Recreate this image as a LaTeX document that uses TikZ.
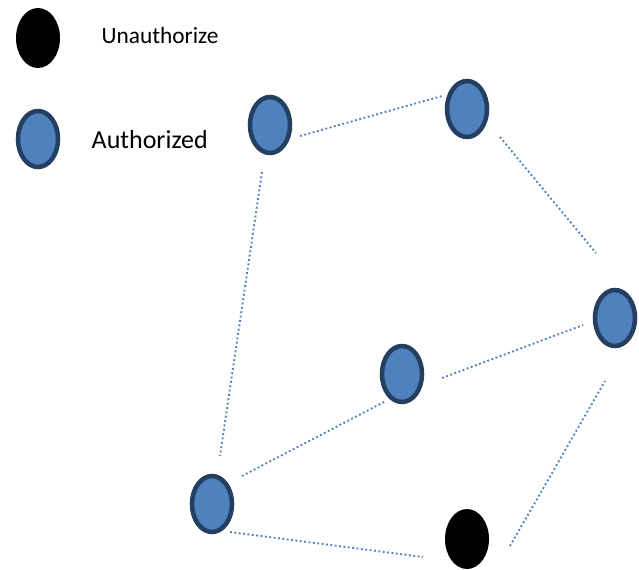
\documentclass[tikz,border=0pt]{standalone}
\usepackage{fontspec}
\setmainfont{Carlito}
\usetikzlibrary{shapes.geometric}

\definecolor{nodeblue}{HTML}{4F81BD}
\definecolor{edgeblue}{HTML}{243F60}

\begin{document}
\begin{tikzpicture}[x=0.75pt, y=-0.75pt,
    authorized/.style={ellipse, draw=edgeblue, fill=nodeblue, line width=3.4pt, minimum width=30pt, minimum height=42pt, inner sep=0pt},
    unauthorized/.style={ellipse, fill=black, minimum width=33pt, minimum height=45pt, inner sep=0pt},
    link/.style={draw=nodeblue, line width=1.4pt, dash pattern=on 1.4pt off 1.9pt}]
    \useasboundingbox (0,0) rectangle (639,569);

    % Legend
    \node [unauthorized]    (legU)  at (38,38)   {};
    \node [authorized]      (legA)  at (38,139)  {};
    \node [anchor=base west, font=\fontsize{17.5}{20}\selectfont] (txtU) at (97,43)  {Unauthorize};
    \node [anchor=base west, font=\fontsize{19.5}{22}\selectfont] (txtA) at (87,148)  {Authorized};

    % Nodes {n1, n2, n3, n4, n5, n6}
    \node [authorized]      (n1)    at (270,125) {};
    \node [authorized]      (n2)    at (467,109) {};
    \node [authorized]      (n3)    at (615,318) {};
    \node [authorized]      (n4)    at (402,374) {};
    \node [authorized]      (n5)    at (212,504) {};
    \node [unauthorized]    (n6)    at (467,539) {};

    % Paths
    \path [link] ([shift={(30,11)}]n1.center)  -- ([shift={(-25,-13)}]n2.center);
    \path [link] ([shift={(33,28)}]n2.center)  -- ([shift={(-19,-65)}]n3.center);
    \path [link] ([shift={(-8,47)}]n1.center)  -- ([shift={(8,-48)}]n5.center);
    \path [link] ([shift={(30,-28)}]n5.center) -- ([shift={(-18,28)}]n4.center);
    \path [link] ([shift={(40,4)}]n4.center)   -- ([shift={(-32,7)}]n3.center);
    \path [link] ([shift={(18,28)}]n5.center)  -- ([shift={(-44,18)}]n6.center);
    \path [link] ([shift={(43,7)}]n6.center)   -- ([shift={(-10,63)}]n3.center);

\end{tikzpicture}
\end{document}
